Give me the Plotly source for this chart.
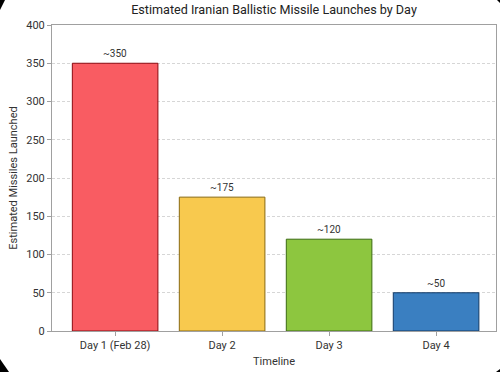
import plotly.graph_objects as go

categories = ["Day 1 (Feb 28)", "Day 2", "Day 3", "Day 4"]
launches = [350, 175, 120, 50]
labels = ["~350", "~175", "~120", "~50"]
fill_colors = ["#F95C62", "#F8C94E", "#8DC63F", "#3A7FC1"]
edge_colors = ["#8B0A10", "#8A6A10", "#3B6B12", "#123A66"]
y_ticks = [0, 50, 100, 150, 200, 250, 300, 350, 400]

font_family = "Roboto, 'Open Sans', sans-serif"

fig = go.Figure()
fig.add_trace(go.Bar(
    x=categories, y=launches, width=0.8,
    marker=dict(color=fill_colors, line=dict(color=edge_colors, width=1)),
    hoverinfo="skip",
))

for c, v, t in zip(categories, launches, labels):
    fig.add_annotation(x=c, y=v, text=t, showarrow=False, yanchor="bottom",
                       yshift=2, font=dict(size=10, color="#333", family=font_family))

# dark card-edge corners visible in the screenshot
W, H = 500, 372
L, R, T, B = 52, 4, 25, 41
pw, ph = W - L - R, H - T - B
def px(x):
    return (x - L) / pw
def py(y):
    return 1 - (y - T) / ph
corner_polys = [
    [(0, 0), (5, 0), (0, 10)],
    [(0, 359), (0, 372), (9, 372)],
    [(500, 369), (500, 372), (496, 372)],
    [(497, 0), (500, 0), (500, 3)],
]
for poly in corner_polys:
    p = "M " + " L ".join(f"{px(x)},{py(y)}" for x, y in poly) + " Z"
    fig.add_shape(type="path", path=p, xref="paper", yref="paper",
                  fillcolor="black", line=dict(width=0), layer="above")

fig.update_layout(
    width=W, height=H,
    margin=dict(l=L, r=R, t=T, b=B),
    paper_bgcolor="white", plot_bgcolor="white",
    font=dict(family=font_family, size=11, color="#333"),
    title=dict(text="Estimated Iranian Ballistic Missile Launches by Day",
               x=(L + pw / 2) / W, xanchor="center", y=1 - 10 / H, yanchor="middle",
               font=dict(size=12.6, color="#222")),
    showlegend=False,
    bargap=0.2,
)
fig.update_xaxes(
    range=[-0.59, 3.56], showline=True, linecolor="#a0a0a0", linewidth=1, mirror=True,
    ticks="outside", ticklen=4, tickcolor="#a0a0a0", showgrid=False,
    title=dict(text="Timeline", font=dict(size=11, color="#333"), standoff=6),
    tickfont=dict(size=11, color="#333"),
)
fig.update_yaxes(
    range=[0, 400], tickvals=y_ticks, showline=True, linecolor="#a0a0a0", linewidth=1,
    mirror=True, ticks="outside", ticklen=4, tickcolor="#a0a0a0",
    showgrid=True, gridcolor="#d6d6d6", griddash="3px,2px", gridwidth=1, zeroline=False,
    title=dict(text="Estimated Missiles Launched", font=dict(size=11, color="#333"), standoff=6),
    tickfont=dict(size=11, color="#333"),
)

fig.write_html("out.html", config={"displayModeBar": False},
               post_script="document.body.style.margin='0';document.body.style.overflow='hidden';")
